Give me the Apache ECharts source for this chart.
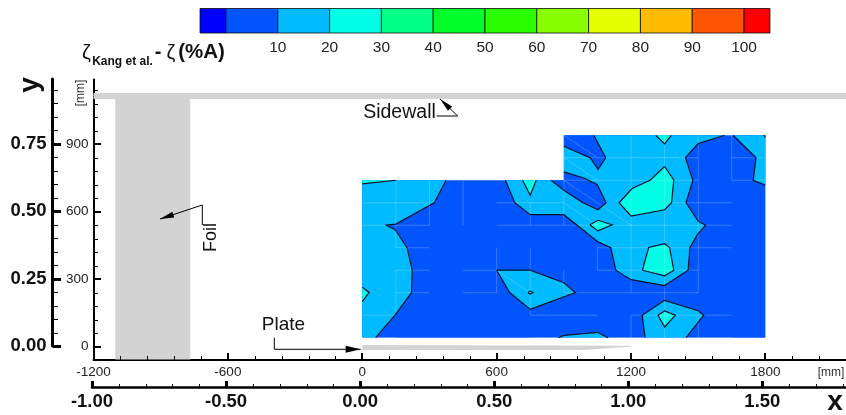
<!DOCTYPE html>
<html>
<head>
<meta charset="utf-8">
<style>html,body{margin:0;padding:0;background:#fff}#c{width:846px;height:415px}</style>
<script src="https://cdn.jsdelivr.net/npm/echarts@6/dist/echarts.min.js"></script>
</head>
<body>
<div id="c"></div>
<script>
// ---------- tick labels ----------
const innerXMajor = [-1200, -600, 0, 600, 1200, 1800];
const innerXMinor = [-1080,-960,-840,-720,-480,-360,-240,-120,120,240,360,480,720,840,960,1080,1320,1440,1560,1680,1920,2040];
const innerYMajor = [0, 300, 600, 900];
const innerYMinor = [60,120,180,240,360,420,480,540,660,720,780,840,960,1020,1080,1140];
const outerXMajor = [-1, -0.5, 0, 0.5, 1, 1.5];
const outerXMinor = [-0.9,-0.8,-0.7,-0.6,-0.4,-0.3,-0.2,-0.1,0.1,0.2,0.3,0.4,0.6,0.7,0.8,0.9,1.1,1.2,1.3,1.4,1.6,1.7,1.8];
const outerYMajor = [0, 0.25, 0.5, 0.75];
const outerYMinor = [0.05,0.1,0.15,0.2,0.3,0.35,0.4,0.45,0.55,0.6,0.65,0.7,0.8,0.85,0.9,0.95];
const legendTicks = [10,20,30,40,50,60,70,80,90,100];

// ---------- colour bar ----------
const legendBreaks = [-5,0,10,20,30,40,50,60,70,80,90,100,105];
const legendColors = ['#0000ff','#0055ff','#00bbff','#00ffe6','#00ff88','#00ff2a','#2aff00','#88ff00','#e5ff00','#ffbb00','#ff5500','#ff0000'];
const DARK = '#0055ff', LIGHT = '#00bbff', CYAN = '#00ffe6', GREY = '#d3d3d3';

// ---------- geometry (mm) ----------
const foil = [[-1103,-57],[-768,-57],[-768,1101],[-1103,1101]];
const sidewall = [[-1200,1101],[2160,1101],[2160,1128],[-1200,1128]];
const plate = [[0,8],[1200,4],[1200,0],[987,-15],[0,-15]];
const domain = [[0,40],[1800,40],[1800,740],[1800,940],[900,940],[900,740],[0,740]];

// ---------- contours: line = black contour, closure = domain corners ----------
const leftBand = {line:[[374,740],[322,640],[150,545],[107,540],[147,520],[200,440],[223,340],[220,240],[147,141],[60,40]], closure:[[0,40],[0,740]]};
const centreBand = {line:[[639,740],[681,640],[750,587],[900,587],[1050,468],[1110,440],[1132,340],[1200,298],[1350,272],[1455,340],[1463,440],[1496,498],[1533,540],[1500,557],[1446,640],[1476,740],[1443,840],[1500,903],[1618,940]], closure:[[900,940],[900,740]]};
const cornerBand = {line:[[1656,940],[1758,840],[1746,740],[1800,718]], closure:[[1800,940]]};
const islandBand = {line:[[600,340],[750,340],[900,284],[952,241],[750,166],[658,241],[600,340]], closure:[]};
const bottomRightBand = {line:[[1263,40],[1250,140],[1350,206],[1500,160],[1525,140],[1446,40]], closure:[]};
const bottomBand = {line:[[877,40],[900,50],[1050,64],[1098,40]], closure:[]};
const holeTop = {line:[[1034,940],[1087,840],[1053,788],[1017,840],[900,891]], closure:[[900,940]]};
const holeMid = {line:[[843,740],[900,696],[982,642],[1052,609],[1089,640],[1049,721],[989,750],[900,777]], closure:[[900,740]]};
const holeCorner = {line:[[1793,940],[1800,930]], closure:[[1800,940]]};
const peakTopLeft = {line:[[0,724],[150,740]], closure:[[0,740]]};
const peakNotch = {line:[[716,740],[750,673],[777,740]], closure:[]};
const peakTop = {line:[[1310,940],[1350,902],[1380,940]], closure:[]};
const peakLarge = {line:[[1350,801],[1391,741],[1381,640],[1350,609],[1200,581],[1147,640],[1205,703],[1287,741],[1350,801]], closure:[]};
const peakSmall = {line:[[1016,542],[1052,562],[1116,542],[1052,515],[1016,542]], closure:[]};
const peakMid = {line:[[1251,340],[1279,441],[1350,458],[1372,441],[1391,340],[1350,315],[1251,340]], closure:[]};
const peakIsland = {line:[[740,240],[750,247],[762,241],[750,234],[740,240]], closure:[]};
const peakBottom = {line:[[1320,140],[1350,159],[1398,140],[1350,88],[1320,140]], closure:[]};
const peakLeft = {line:[[0,264],[31,241],[0,200]], closure:[]};

const lightBands = [leftBand, centreBand, cornerBand, islandBand, bottomRightBand, bottomBand];
const darkHoles = [holeTop, holeMid, holeCorner];
const cyanPeaks = [peakTopLeft, peakNotch, peakTop, peakLarge, peakSmall, peakMid, peakIsland, peakBottom, peakLeft];

// ---------- faint mesh lines of the data grid ----------
const meshLines = [
 [[150,740],[150,440]],[[150,340],[150,140]],[[300,740],[300,540]],[[450,740],[450,540]],
 [[600,440],[600,240]],[[750,640],[750,540]],[[750,440],[750,140]],[[900,940],[900,540]],[[900,340],[900,240]],
 [[1050,440],[1050,340]],[[1200,940],[1200,240]],[[1200,140],[1200,40]],[[1350,940],[1350,40]],
 [[1500,940],[1500,240]],[[1500,140],[1500,40]],[[1650,940],[1650,740]],
 [[0,640],[300,640]],[[600,640],[900,640]],[[0,540],[300,540]],[[600,540],[900,540]],[[900,540],[1650,540]],
 [[150,440],[300,440]],[[1050,440],[1650,440]],[[150,340],[300,340]],[[450,340],[600,340]],[[1050,340],[1500,340]],
 [[150,240],[300,240]],[[450,240],[600,240]],[[900,240],[1500,240]],[[0,140],[150,140]],[[750,140],[1050,140]],[[1200,140],[1650,140]],
 [[150,40],[0,40]],[[750,40],[1650,40]],
 [[900,840],[1500,840]],[[1650,840],[1800,840]],[[900,740],[1500,740]],[[1650,740],[1800,740]],[[1350,640],[1650,640]],
 [[600,340],[750,240]],[[900,940],[1050,840]],[[900,840],[1050,740]],[[900,740],[1050,640]],[[1050,640],[1200,540]],[[900,640],[1050,540]]
];

const FONT = '"Liberation Sans", Arial, sans-serif';

function fillOf(c){ return c.line.concat(c.closure); }
const layers = [];
[foil, sidewall, plate].forEach(p => layers.push({t:'fill', pts:p, color:GREY}));
layers.push({t:'fill', pts:domain, color:DARK});
lightBands.forEach(c => layers.push({t:'fill', pts:fillOf(c), color:LIGHT}));
darkHoles.forEach(c => layers.push({t:'fill', pts:fillOf(c), color:DARK}));
cyanPeaks.forEach(c => layers.push({t:'fill', pts:fillOf(c), color:CYAN}));
meshLines.forEach(m => layers.push({t:'mesh', pts:m}));
lightBands.concat(darkHoles, cyanPeaks).forEach(c => layers.push({t:'line', pts:c.line}));

function renderLayer(params, api){
  const l = layers[params.dataIndex];
  const pts = l.pts.map(p => api.coord(p));
  if (l.t === 'fill') return {type:'polygon', shape:{points:pts}, style:{fill:l.color, stroke:null}, silent:true};
  if (l.t === 'mesh') return {type:'polyline', shape:{points:pts}, style:{fill:null, stroke:'rgba(255,255,255,0.22)', lineWidth:1}, silent:true};
  return {type:'polyline', shape:{points:pts}, style:{fill:null, stroke:'#06122a', lineWidth:1.2}, silent:true};
}
function renderLegend(params, api){
  const i = params.dataIndex;
  const a = api.coord([legendBreaks[i], 1]), b = api.coord([legendBreaks[i+1], 0]);
  return {type:'rect', shape:{x:a[0], y:a[1], width:b[0]-a[0], height:b[1]-a[1]},
          style:{fill:legendColors[i], stroke:'rgba(0,0,0,0.75)', lineWidth:1}, silent:true};
}

const xInnerRange = {min:-1200, max:2160};
const yInnerRange = {min:-57, max:1188};
const xOuterRange = {min:-1, max:1.812};
const yOuterRange = {min:0, max:0.99};
const OFFSET_X = 41.5, OFFSET_Y = 39.5;

// tick series: each tick is read from the tick arrays and placed by the axis scale
function tickSeries(dim, values, base, len, width, xIdx, yIdx, shift){
  return {type:'custom', xAxisIndex:xIdx, yAxisIndex:yIdx, clip:false, silent:true, z:30, zlevel:1,
    data:values.map(v=>[v]),
    renderItem(params, api){
      const v = values[params.dataIndex];
      const p = dim === 'x' ? api.coord([v, base]) : api.coord([base, v]);
      const x = Math.round(p[0] - (dim === 'y' ? shift : 0)), y = Math.round(p[1] + (dim === 'x' ? shift : 0));
      const half = Math.floor(width/2);
      const shape = dim === 'x'
        ? {x:x - half, y:y - len, width:width, height:len}
        : {x:x, y:y - half, width:len, height:width};
      return {type:'rect', shape, style:{fill:'#000', stroke:null}, silent:true};
    }};
}

const lineOn = w => ({show:true, onZero:false, lineStyle:{color:'#000', width:w}});
const base = (gridIndex, extra) => Object.assign({type:'value', gridIndex, splitLine:{show:false}, axisTick:{show:false}}, extra);

const option = {
  animation:false,
  textStyle:{fontFamily:FONT},
  grid:[
    {left:93.5, right:0, top:79.5, bottom:55.5},
    {left:92, right:0, top:79, bottom:69},
    {left:199, width:572, top:8.5, height:24.5}
  ],
  xAxis:[
    base(0, Object.assign({position:'bottom', axisLine:lineOn(2),
      axisLabel:{show:true, customValues:innerXMajor, margin:6, fontSize:13.5, color:'#222', fontFamily:FONT, formatter:v=>String(v)}}, xInnerRange)),
    base(1, Object.assign({position:'bottom', offset:OFFSET_X, axisLine:lineOn(2.5),
      axisLabel:{show:true, customValues:outerXMajor, margin:5, fontSize:18.5, fontWeight:'bold', color:'#111', fontFamily:FONT, formatter:v=>Number(v).toFixed(2)}}, xOuterRange)),
    base(2, {min:-5.2, max:105.2, position:'bottom', axisLine:{show:false, onZero:false},
      axisLabel:{show:true, customValues:legendTicks, margin:7, fontSize:15.5, color:'#222', fontFamily:FONT, formatter:v=>String(v)}})
  ],
  yAxis:[
    base(0, Object.assign({position:'left', axisLine:lineOn(2),
      axisLabel:{show:true, customValues:innerYMajor, margin:5, fontSize:13.5, color:'#222', fontFamily:FONT, formatter:v=>String(v)}}, yInnerRange)),
    base(1, Object.assign({position:'left', offset:OFFSET_Y, axisLine:lineOn(3),
      axisLabel:{show:true, customValues:outerYMajor, margin:6, fontSize:18.5, fontWeight:'bold', color:'#111', fontFamily:FONT, formatter:v=>Number(v).toFixed(2)}}, yOuterRange)),
    base(2, {min:0, max:1, show:false})
  ],
  series:[
    {type:'custom', xAxisIndex:0, yAxisIndex:0, renderItem:renderLayer, data:layers.map((l,i)=>[i]), silent:true, clip:false, z:1},
    {type:'custom', xAxisIndex:2, yAxisIndex:2, renderItem:renderLegend, data:legendColors.map((c,i)=>[i]), silent:true, clip:false, z:3},
    tickSeries('x', innerXMinor, yInnerRange.min, 4, 1, 0, 0, 0),
    tickSeries('x', innerXMajor, yInnerRange.min, 7, 2, 0, 0, 0),
    tickSeries('y', innerYMinor, xInnerRange.min, 4, 1, 0, 0, 0),
    tickSeries('y', innerYMajor, xInnerRange.min, 7, 2, 0, 0, 0),
    tickSeries('x', outerXMinor, yOuterRange.min, 4, 1, 1, 1, OFFSET_X),
    tickSeries('x', outerXMajor, yOuterRange.min, 7, 3, 1, 1, OFFSET_X),
    tickSeries('y', outerYMinor, xOuterRange.min, 5, 1, 1, 1, OFFSET_Y),
    tickSeries('y', outerYMajor, xOuterRange.min, 8, 3, 1, 1, OFFSET_Y)
  ],
  graphic:[]
};

function text(x,y,t,size,opts){
  return Object.assign({type:'text', x, y, z:20, silent:true,
    style:{text:t, font:(opts&&opts.bold?'bold ':'')+size+'px '+FONT, fill:(opts&&opts.fill)||'#111', textAlign:(opts&&opts.align)||'center', textVerticalAlign:'middle'}},
    opts&&opts.rot?{rotation:opts.rot}:{});
}
function leader(points, headLen, headW){
  const n = points.length, tip = points[n-1], from = points[n-2];
  const dx = tip[0]-from[0], dy = tip[1]-from[1], d = Math.hypot(dx,dy), ux = dx/d, uy = dy/d;
  const bx = tip[0]-ux*headLen, by = tip[1]-uy*headLen;
  return [
    {type:'polyline', z:20, silent:true, shape:{points}, style:{fill:null, stroke:'#000', lineWidth:1}},
    {type:'polygon', z:20, silent:true, shape:{points:[tip,[bx-uy*headW,by+ux*headW],[bx+uy*headW,by-ux*headW]]}, style:{fill:'#000', stroke:null}}
  ];
}
option.graphic = [
  text(86.5,53,'ζ',20,{}),
  text(122.5,62,'Kang et al.',12,{bold:true}),
  text(158,52,'-',20,{bold:true}),
  text(171,53,'ζ',20,{}),
  text(201.5,52,'(%A)',20.5,{bold:true}),
  text(30,85,'y',28,{bold:true, rot:Math.PI/2}),
  text(835,402,'x',28,{bold:true}),
  text(81,93,'[mm]',12,{rot:Math.PI/2, fill:'#333'}),
  text(831,373,'[mm]',12,{fill:'#333'}),
  text(399.5,113,'Sidewall',19.5,{}),
  text(283.5,325,'Plate',19,{}),
  text(211.5,237.5,'Foil',18,{rot:Math.PI/2})
].concat(
  leader([[274.3,337.7],[274.3,349.3],[360.7,349.3]],15,3.5),
  leader([[202.3,225],[202.3,205],[160,219]],14,3),
  leader([[436.7,116],[457.7,116],[440,99]],14,3)
);

const chart = echarts.init(document.getElementById('c'), null, {renderer:'canvas', width:846, height:415});
chart.setOption(option);
</script>
</body>
</html>
